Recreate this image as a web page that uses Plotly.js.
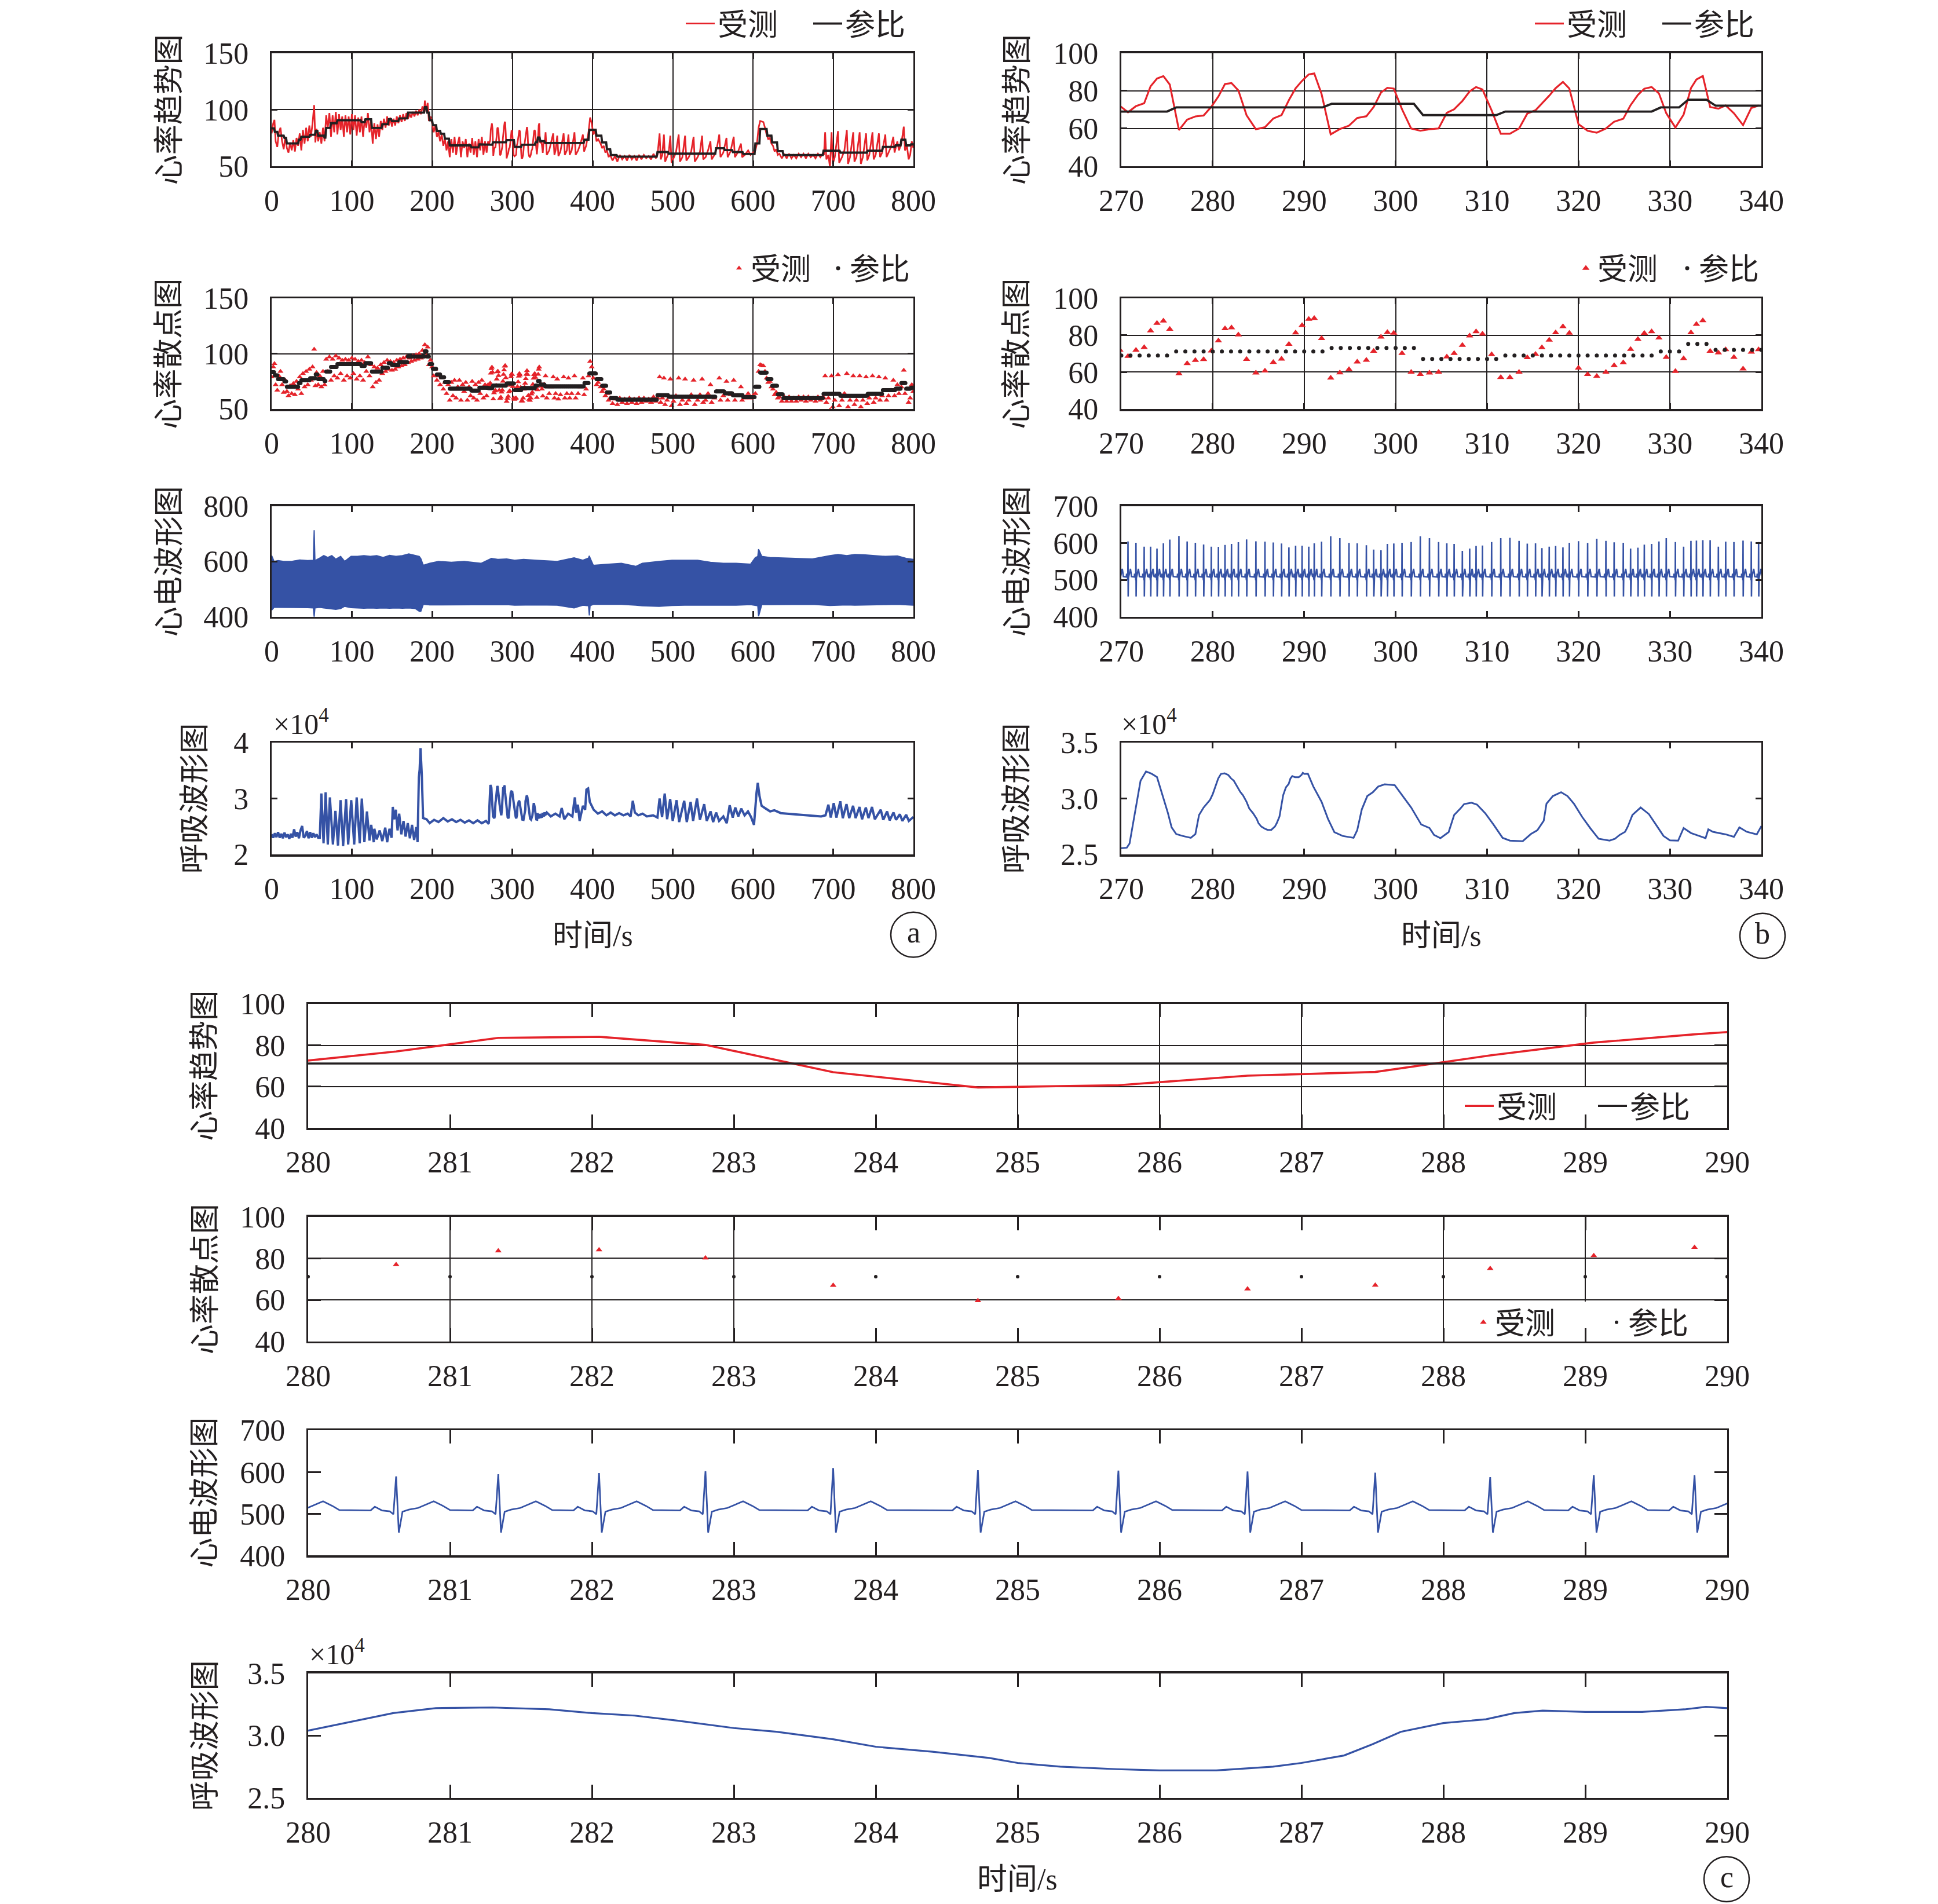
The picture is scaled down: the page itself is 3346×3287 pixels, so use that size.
<!DOCTYPE html>
<html><head><meta charset="utf-8">
<script src="https://cdn.plot.ly/plotly-3.0.1.min.js"></script>
<style>html,body{margin:0;padding:0;background:#fff}</style>
</head><body>
<div id="chart" style="width:3346px;height:3287px"></div>
<script>
const W = 3346, H = 3287;
const FONT = 'Liberation Serif, "Noto Sans CJK SC", serif';
const INK = '#231f20', RED = '#e5232a', BLUE = '#3552a5';

// ---------- tick labels ----------
const xTicksA = [0,100,200,300,400,500,600,700,800];
const xTicksB = [270,280,290,300,310,320,330,340];
const xTicksC = [280,281,282,283,284,285,286,287,288,289,290];
const yTicksHrA = [50,100,150];
const yTicksHrB = [40,60,80,100];
const yTicksEcgA = [400,600,800];
const yTicksEcgB = [400,500,600,700];
const yTicksRespA = [2,3,4];
const yTicksRespB = [2.5,3.0,3.5];
const yTextRespB = ['2.5','3.0','3.5'];

// ---------- measured heart rate (受测), beats in 0-269 s ----------
const hrA1 = [[0,79],[2,88],[3.5,91],[5,72],[7,67],[9,80],[11,84],[13,72],[15,65],[17,76],[19,66],[21,62],[23,71],[25,64],[27,73],[29,63],[31,75],[33,68],[35,79],[37,64],[39,82],[41,70],[43,84],[45,72],[47,86],[49,76],[51,88],[53,104],[54.5,71],[56,83],[58,72],[60,80],[62,70],[64,84],[66,72],[68,95],[70,84],[72,97],[74,76],[76,95],[78,80],[80,98],[82,78],[84,96],[86,82],[88,94],[90,76],[92,95],[94,80],[96,94],[98,78],[100,96],[102,82],[104,95],[106,77],[108,93],[110,80],[112,94],[114,76],[116,92],[118,84],[120,97],[122,80],[124,90],[126,70],[128,88],[130,74],[132,87],[134,76],[136,90],[138,82],[140,92],[142,84],[144,94],[146,86],[148,93],[150,85],[152,92],[154,86],[156,94],[158,88],[160,95],[162,89],[164,96],[166,90],[168,97],[170,92],[172,96],[174,93],[176,98],[178,94],[180,99],[182,95],[184,100],[186,96],[188,103],[190,97],[191,108],[193,98],[194.5,106],[196,90],[198,94],[200,88],[202,80],[204,86],[206,76],[208,80],[210,72],[212,78],[214,68],[216,74],[218,64],[220,72],[222,58],[224,74],[226,62],[228,76],[230,60],[232,70],[234,76],[236,58],[238,72],[240,66],[242,74],[244,58],[246,70],[248,62],[250,75],[252,60],[254,72],[256,58],[258,74],[260,64],[262,76],[264,60],[266,72],[268,62]];

// beats 269.8-339.7 s (heart-beat times and heart rate at each beat)
const beatT = [269.84,270.73,271.6,272.5,273.2,273.9,274.6,275.3,276.3,277.2,278.1,279.0,279.84,280.62,281.34,282.05,282.80,283.70,284.72,285.71,286.62,287.52,288.33,289.06,289.77,290.5,291.1,291.9,292.9,293.9,294.9,295.8,296.8,297.6,298.4,299.1,299.8,300.7,301.7,302.7,303.7,304.7,305.6,306.4,307.3,308.1,308.8,309.5,310.5,311.5,312.5,313.5,314.4,315.3,316.0,316.8,317.5,318.3,319.0,320.0,321.0,322.0,323.0,323.9,324.9,325.7,326.5,327.2,328.0,328.8,329.6,330.6,331.5,332.3,332.9,333.6,334.4,335.3,336.1,337.0,338.0,338.9,339.7];
const hrB = [72,68.6,71.9,73.4,82.4,86.5,87.8,83.3,59.2,64.7,66.4,66.9,71.5,77.0,83.6,84.1,80.2,67.0,59.6,60.7,65.3,67.1,75.1,81.3,85.3,88.7,89.2,78.3,56.9,59.7,61.5,65.6,66.5,71.4,79.1,81.6,81.2,70.2,60.0,58.8,59.6,60.0,68.3,70.2,74.6,79.7,82.0,80.7,69.6,57.2,57.2,60.0,67.9,69.7,73.3,77.4,81.4,84.7,81.2,62.3,58.8,57.8,60.0,63.6,65.2,72.4,77.8,81.1,82.0,78.6,68.1,60.5,67.4,81.4,86.0,87.9,71.4,70.5,72.2,68.1,61.8,70.9,72.2];
// R-peak height of every beat above
const ecgR = [600,604,600.5,590,590,585,599,609,619,604,600.5,596,590,589.6,594.7,597.5,602,609.5,604.4,603.5,601.2,598.4,587.8,592.8,592.8,590,599,603.5,618,613,600,599,594,582,580,597.5,598.5,600.5,602.5,618,613,602.5,599,597.5,578.5,585,592,593,602.5,613,614,605.5,598,599,586,590,592,588,600.5,605,600,611.5,605.5,601.5,600.5,585,587,595.5,597.5,604,613,602.5,590,605.5,606.5,607.5,607.5,590,603.5,602.5,606.5,604,602.5];

const hrA2 = [[340.5,72],[341.5,80],[343,60],[346,64],[348,70],[351,79],[352.5,60],[354,64],[356,77],[357.5,59],[360,63],[364,79],[365.5,60],[368,64],[370,78],[371.5,60],[374,64],[377.5,80],[379,60],[382,64],[385,70],[388,78],[389.5,63],[392,68],[395,80],[397,93],[399,88],[401,78],[403,82],[405,72],[407,74],[410,70],[412,66],[414,68],[416,62],[418,64],[420,58],[422,60],[425,55],[428,59],[431,54],[434,60],[437,56],[440,59],[443,55],[446,60],[449,56],[452,59],[455,55],[458,60],[461,56],[464,60],[467,57],[470,59],[473,56],[476,61],[479,57],[481,60],[483.6,79],[485,56],[487,60],[489,78],[490.5,54],[493,58],[495,62],[497,77],[498.5,53],[501,57],[504,62],[507.4,78],[509,54],[512,58],[515.4,77],[517,55],[520,58],[523,63],[526,76],[527.5,54],[531,58],[534,63],[536.6,77],[538,56],[541,58],[544,64],[547,72],[548.5,56],[552,60],[555,66],[558,78],[559.5,58],[563,62],[567,75],[568.5,58],[572,63],[576,76],[577.5,58],[581,62],[585,70],[586.5,58],[590,60],[594,64],[597,60],[600,62],[603,64],[605,70],[607,84],[609,90],[611,89.5],[613,89],[615,84],[617,78],[619,74],[621,75],[623,70],[625,68],[627,63],[629,65],[631,60],[633,61],[636,57],[639,61],[642,57],[645,61],[648,57],[651,60],[654,57],[657,61],[660,58],[663,61],[666,57],[669,61],[672,58],[675,60],[678,57],[681,61],[684,58],[687,61],[688.5,60],[690,80],[691.5,56],[694,60],[696,49],[698,80],[699.5,52],[702,58],[706,81],[707.5,53],[711,58],[714,64],[717,82],[718.5,52],[721,58],[725,80],[726.5,54],[729,58],[733,80],[734.5,52],[737,58],[741,79],[742.5,55],[745,60],[749,80],[750.5,56],[753,60],[757,79],[758.5,58],[761,62],[765,78],[766.5,58],[769,62],[772,67],[775,76],[776.5,62],[780,72],[782,64],[785,70],[788,85],[789.5,64],[792,68],[794,56],[796,60],[798,72],[800,66]];

// ---------- reference heart rate (参比), 1 Hz, given as level changes ----------
const refStepT = [0,4,8,16,19,34,37,48,55,58,66,68,74,82,112,117,125,138,146,150,159,170,191,194,197,201,206,211,216,222,249,259,270,276,293,303,312,329,332,335,341,390,396,405,412,418,423,431,481,495,554,565,575,588,603,609,618,624,631,638,688,709,743,762,778,785,791,797];
const refStepV = [83.4,80.4,77,75,70.1,73.5,76,77.8,81.2,77,75.3,83.8,88,90.6,89,91.5,83.8,87.2,91.5,89.8,92.3,97.4,102.2,97.4,90.6,86.3,81.2,78.7,74.4,68.4,66.7,69.3,69,71.2,73.1,67.1,69,71.2,75.3,72.1,70.5,73.5,82.1,77,71,65,59.9,58.5,62.5,61.1,65.9,64.2,62.5,60.8,70.1,82.9,77,71,63.3,59.9,63.7,62,63.7,67.1,68.4,73.5,68.4,69.3];

// ---------- ECG, 0-800 s: upper and lower edge of the dense trace ----------
const ecgAT   = [0,3,8,15,25,35,45,52,53,54,60,65,70,75,80,86,91,99,107,115,123,131,139,147,155,163,171,179,184,186,189,197,208,224,240,261,274,282,293,303,314,330,356,377,388,395,396,397,401,415,436,454,462,483,499,515,531,547,563,579,597,603,606,607,611,621,648,674,696,706,717,727,738,749,765,780,791,800];
const ecgATop = [621,600,603,600,600,605,603,604,713,603,612,621,614,621,608,618,600,618,618,621,618,621,614,622,618,621,627,621,618,610,586,593,600,597,600,593,611,607,609,604,607,604,600,613,604,612,620,612,586,589,593,582,593,600,604,604,604,597,593,593,590,614,618,644,618,614,611,609,621,625,621,625,624,621,618,620,611,607];
const ecgABot = [424,434,434,434,434,434,433,432,400,432,434,432,430,428,427,430,438,433,432,431,432,431,432,431,432,431,432,430,420,420,445,443,443,443,443,443,444,444,444,442,443,443,442,432,442,440,405,440,445,445,445,442,440,438,441,442,442,442,441,442,444,442,440,402,444,444,445,445,441,442,443,442,443,443,444,445,444,442];

// one typical heart beat (offset from R peak in s, value)
const tplT = [-0.18,-0.15,-0.10,-0.045,-0.019,0,0.019,0.045,0.09,0.155,0.265,0.33,0.38];
const tplV = [508,517,508,506,499,609,455,505,510,514,530,519,509];
const R_IDX = 5;

// ---------- respiration (x10^4) ----------
const respA1 = [[0,2.36],[2,2.30],[4,2.38],[6,2.31],[8,2.40],[10,2.30],[12,2.37],[14,2.29],[16,2.39],[18,2.31],[20,2.36],[22,2.28],[24,2.37],[26,2.30],[28,2.45],[30,2.32],[32,2.40],[34,2.29],[36,2.43],[38,2.51],[40,2.30],[42,2.33],[44,2.42],[46,2.29],[48,2.40],[50,2.30],[52,2.38],[54,2.31],[56,2.36],[58,2.30],[60,2.30],[62,3.09],[64.7,2.20],[67.3,3.11],[70,2.18],[72.6,3.02],[76.4,2.18],[79.5,2.78],[82.7,2.16],[85.9,2.97],[89.1,2.15],[92.8,2.99],[95.4,2.18],[99.2,2.97],[102.9,2.18],[106,3.02],[109.8,2.20],[112.4,3.00],[115.6,2.22],[118.8,2.77],[122,2.25],[124.1,2.53],[127.3,2.22],[128,2.46],[131,2.27],[134.7,2.43],[137.9,2.24],[141.6,2.48],[144,2.22],[146.9,2.46],[149.5,2.30],[151,2.85],[152.7,2.63],[154.8,2.80],[157,2.43],[159,2.73],[161.7,2.36],[164.4,2.60],[167,2.32],[169.7,2.56],[172.3,2.29],[175,2.53],[177.6,2.26],[180.3,2.49],[181.9,2.22],[183.5,3.38],[184.5,3.52],[185.6,3.90],[187.2,3.41],[188.8,2.65],[193,2.63],[197,2.56],[202.5,2.62],[208,2.58],[214,2.65],[219.5,2.59],[224.8,2.63],[230,2.58],[235.4,2.62],[240.7,2.57],[246,2.61],[251.3,2.56],[256.6,2.61],[262,2.56],[267.2,2.60],[269.5,2.56]];
const respB = [[270,2.556],[270.6,2.561],[270.9,2.598],[271.5,2.869],[272.1,3.158],[272.7,3.242],[273.3,3.222],[273.9,3.192],[274.6,3.005],[275.1,2.869],[275.5,2.742],[276.0,2.683],[276.7,2.666],[277.6,2.649],[278.1,2.683],[278.5,2.853],[279.0,2.920],[279.7,2.988],[280.0,3.04],[280.3,3.11],[280.6,3.18],[280.9,3.22],[281.3,3.225],[281.7,3.21],[282.0,3.18],[282.3,3.16],[282.6,3.12],[283.0,3.06],[283.3,3.03],[283.7,2.97],[284.0,2.91],[284.4,2.87],[284.8,2.82],[285.0,2.78],[285.3,2.75],[285.7,2.73],[286.0,2.72],[286.4,2.72],[286.8,2.75],[287.0,2.78],[287.3,2.84],[287.5,2.93],[287.7,3.03],[288.0,3.10],[288.3,3.13],[288.5,3.18],[288.7,3.20],[289.0,3.19],[289.4,3.19],[289.7,3.21],[289.85,3.23],[290.0,3.22],[290.4,3.222],[291.0,3.107],[291.9,2.971],[292.6,2.819],[293.3,2.700],[294.2,2.666],[295.4,2.649],[295.8,2.717],[296.3,2.903],[296.9,3.022],[297.5,3.056],[298.1,3.107],[298.8,3.127],[299.9,3.120],[300.8,3.022],[301.7,2.920],[302.8,2.768],[303.7,2.737],[304.2,2.675],[304.9,2.646],[305.8,2.700],[306.4,2.853],[307.1,2.912],[307.5,2.951],[308.3,2.963],[308.9,2.946],[309.8,2.869],[310.7,2.768],[311.7,2.649],[312.5,2.624],[313.9,2.619],[314.8,2.683],[315.5,2.717],[316.2,2.802],[316.5,2.954],[317.2,3.022],[318.1,3.056],[318.8,3.022],[319.5,2.954],[320.4,2.836],[321.3,2.734],[322.2,2.641],[323.4,2.624],[324.0,2.641],[324.5,2.675],[325.1,2.703],[325.4,2.751],[325.9,2.853],[326.8,2.920],[327.7,2.861],[328.6,2.751],[329.3,2.666],[330.0,2.627],[330.9,2.624],[331.5,2.737],[332.3,2.692],[333.2,2.666],[333.9,2.646],[334.2,2.725],[334.7,2.703],[336.1,2.680],[337.0,2.658],[337.6,2.742],[338.4,2.703],[339.5,2.680],[340.0,2.754]];
const respA2 = [[341,2.70],[343,2.75],[348,2.68],[353.7,2.73],[359,2.68],[361.6,2.83],[364.8,2.63],[369.6,2.73],[374.9,2.68],[376.5,2.87],[378,3.02],[379.6,2.75],[381.8,2.89],[383.9,2.60],[388,2.87],[390.8,2.80],[392.4,3.16],[394.5,3.18],[396.6,2.94],[401.4,2.80],[406.7,2.73],[412,2.77],[417.3,2.70],[422.6,2.75],[427.9,2.70],[433.2,2.74],[438.5,2.70],[443.8,2.73],[447.5,2.68],[450.2,2.96],[452.8,2.75],[457,2.70],[462.4,2.73],[467.7,2.68],[475.6,2.70],[480.9,2.66],[483.6,3.00],[486.7,2.67],[490,3.09],[493,2.63],[496.8,2.99],[500,2.60],[504.8,2.97],[508,2.58],[514.3,2.96],[517.5,2.58],[522.3,2.94],[525.4,2.60],[530.2,3.00],[533.9,2.62],[539.2,2.90],[542.4,2.60],[547.2,2.77],[550.4,2.58],[554.1,2.75],[557.8,2.60],[563.1,2.68],[567.3,2.56],[571,2.88],[574.8,2.66],[578,2.84],[581.7,2.68],[585.4,2.82],[589.6,2.70],[593.8,2.77],[597.6,2.67],[601.3,2.53],[604.5,3.11],[606,3.28],[608.2,3.04],[610.8,2.87],[616,2.82],[621.4,2.77],[626.7,2.79],[634.7,2.74],[642.6,2.73],[653.2,2.72],[663.8,2.71],[674.4,2.70],[685,2.68],[690.4,2.70],[694,2.89],[697,2.66],[700.7,2.92],[704,2.66],[708.9,2.95],[712,2.65],[716.6,2.90],[720,2.65],[724.8,2.87],[728,2.65],[732.8,2.85],[736,2.63],[740.7,2.84],[744,2.65],[748.4,2.85],[751.9,2.63],[759.3,2.80],[762.4,2.62],[767.2,2.77],[770.4,2.61],[775.2,2.75],[778.4,2.62],[783.1,2.72],[786.3,2.60],[791,2.71],[794.3,2.60],[800,2.67]];

// panel c: x positions that still show a vertical grid line, and where each line starts (fraction of plot height; the legend hides the lower part)
const cGrid1 = [285,286,287,288,289];
const cGrid1From = [0,0,0,0,0.33];
const cGrid2 = [281,282,283,288,289];
const cGrid2From = [0,0,0,0,0.32];

// ---------- build series ----------
const hrAllT = hrA1.map(p=>p[0]).concat(beatT, hrA2.map(p=>p[0]));
const hrAllV = hrA1.map(p=>p[1]).concat(hrB, hrA2.map(p=>p[1]));
const refT = [], refV = [];
for (let t = 0, k = 0; t <= 800; t++) {
  while (k + 1 < refStepT.length && refStepT[k+1] <= t) k++;
  refT.push(t); refV.push(refStepV[k]);
}
const ecgT = [], ecgV = [];
for (let i = 0; i < beatT.length; i++) {
  for (let j = 0; j < tplT.length; j++) {
    const x = +(beatT[i] + tplT[j]).toFixed(4);
    if (ecgT.length && x <= ecgT[ecgT.length-1]) continue;
    ecgT.push(x); ecgV.push(j === R_IDX ? ecgR[i] : tplV[j]);
  }
}
const respAll = respA1.concat(respB, respA2);
const respT = respAll.map(p=>p[0]), respV = respAll.map(p=>p[1]);
const respBT = respB.map(p=>p[0]), respBV = respB.map(p=>p[1]);

// ---------- layout geometry (pixels) ----------
const colA = [469,1577], colB = [1936,3041], colC = [532,2982];
const rowsAB = [[79,275],[504,696],[864,1056],[1274,1468]];
const rowsC = [[1727,1942],[2096,2312],[2466,2683],[2887,3103]];

function base(tlen) {
  return {ticks:'inside', ticklen:tlen, tickwidth:3, tickcolor:INK, showline:true, linewidth:3.4,
    linecolor:INK, mirror:'ticks', gridcolor:INK, gridwidth:2, zeroline:false,
    tickfont:{family:FONT, size:52, color:INK}, fixedrange:true, tickmode:'array'};
}
function xAx(col, range, tv, tlen, grid, anchor) {
  return Object.assign(base(tlen), {domain:[col[0]/W, col[1]/W], range, anchor,
    tickvals:tv, ticktext:tv.map(String), showgrid:grid, ticklabelstandoff:11});
}
function yAx(row, range, tv, tt, tlen, grid, anchor) {
  return Object.assign(base(tlen), {domain:[1-row[1]/H, 1-row[0]/H], range, anchor,
    tickvals:tv, ticktext:tt, showgrid:grid, ticklabelstandoff:26});
}

const layout = {
  width:W, height:H, margin:{l:0,r:0,t:0,b:0}, paper_bgcolor:'#fff', plot_bgcolor:'rgba(0,0,0,0)',
  font:{family:FONT, size:52, color:INK}, showlegend:true,
  xaxis:  xAx(colA,[0,800],xTicksA,10,true,'y'),
  yaxis:  yAx(rowsAB[0],[50,150],yTicksHrA,yTicksHrA.map(String),10,true,'x'),
  xaxis2: xAx(colA,[0,800],xTicksA,10,true,'y2'),
  yaxis2: yAx(rowsAB[1],[50,150],yTicksHrA,yTicksHrA.map(String),10,true,'x2'),
  xaxis3: xAx(colA,[0,800],xTicksA,10,false,'y3'),
  yaxis3: yAx(rowsAB[2],[400,800],yTicksEcgA,yTicksEcgA.map(String),10,false,'x3'),
  xaxis4: xAx(colA,[0,800],xTicksA,10,false,'y4'),
  yaxis4: yAx(rowsAB[3],[2,4],yTicksRespA,yTicksRespA.map(String),10,false,'x4'),
  xaxis5: xAx(colB,[270,340],xTicksB,10,true,'y5'),
  yaxis5: yAx(rowsAB[0],[40,100],yTicksHrB,yTicksHrB.map(String),10,true,'x5'),
  xaxis6: xAx(colB,[270,340],xTicksB,10,true,'y6'),
  yaxis6: yAx(rowsAB[1],[40,100],yTicksHrB,yTicksHrB.map(String),10,true,'x6'),
  xaxis7: xAx(colB,[270,340],xTicksB,10,false,'y7'),
  yaxis7: yAx(rowsAB[2],[400,700],yTicksEcgB,yTicksEcgB.map(String),10,false,'x7'),
  xaxis8: xAx(colB,[270,340],xTicksB,10,false,'y8'),
  yaxis8: yAx(rowsAB[3],[2.5,3.5],yTicksRespB,yTextRespB,10,false,'x8'),
  xaxis9: xAx(colC,[280,290],xTicksC,23,false,'y9'),
  yaxis9: yAx(rowsC[0],[40,100],yTicksHrB,yTicksHrB.map(String),22,true,'x9'),
  xaxis10: xAx(colC,[280,290],xTicksC,23,false,'y10'),
  yaxis10: yAx(rowsC[1],[40,100],yTicksHrB,yTicksHrB.map(String),22,true,'x10'),
  xaxis11: xAx(colC,[280,290],xTicksC,23,false,'y11'),
  yaxis11: yAx(rowsC[2],[400,700],yTicksEcgB,yTicksEcgB.map(String),22,false,'x11'),
  xaxis12: xAx(colC,[280,290],xTicksC,23,false,'y12'),
  yaxis12: yAx(rowsC[3],[2.5,3.5],yTicksRespB,yTextRespB,22,false,'x12'),
  annotations:[], shapes:[]
};

function leg(xl, yc, ew, iw) {
  return {x:xl/W, y:1-yc/H, xanchor:'left', yanchor:'middle', orientation:'h', traceorder:'normal',
    font:{family:FONT,size:52,color:INK}, bgcolor:'rgba(0,0,0,0)', borderwidth:0,
    entrywidth:ew, entrywidthmode:'pixels', itemwidth:iw, tracegroupgap:0};
}
layout.legend  = leg(1179, 28, 155, 50);
layout.legend2 = leg(1256, 452, 126, 30);
layout.legend3 = leg(2645, 28, 155, 50);
layout.legend4 = leg(2718, 452, 130, 30);
layout.legend5 = leg(2524, 1904, 165, 50);
layout.legend6 = leg(2541, 2279, 185, 30);

// y-axis titles
const yTitles = [
  ['心率趋势图',292,177],['心率散点图',292,600],['心电波形图',292,960],['呼吸波形图',337,1371],
  ['心率趋势图',1756,177],['心率散点图',1756,600],['心电波形图',1756,960],['呼吸波形图',1756,1371],
  ['心率趋势图',354,1834],['心率散点图',354,2204],['心电波形图',354,2574],['呼吸波形图',354,2995]
];
yTitles.forEach(a => layout.annotations.push({text:a[0], x:a[1]/W, y:1-a[2]/H, xref:'paper', yref:'paper',
  textangle:-90, showarrow:false, xanchor:'center', yanchor:'middle', font:{family:FONT,size:52,color:INK}}));
[['时间/s',1024,1609],['时间/s',2488,1609],['时间/s',1756,3244]].forEach(a => layout.annotations.push({
  text:a[0], x:a[1]/W, y:1-a[2]/H, xref:'paper', yref:'paper', showarrow:false, xanchor:'center', yanchor:'middle',
  font:{family:FONT,size:52,color:INK}}));
[[470,1238],[1934,1238],[532,2851]].forEach(a => layout.annotations.push({
  text:'×10<sup>4</sup>', x:a[0]/W, y:1-a[1]/H, xref:'paper', yref:'paper', showarrow:false, xanchor:'left', yanchor:'middle',
  font:{family:FONT,size:50,color:INK}}));
[['a',1577,1607],['b',3043,1609],['c',2981,3244]].forEach(a => {
  layout.annotations.push({text:a[0], x:a[1]/W, y:1-(a[2]-4)/H, xref:'paper', yref:'paper', showarrow:false,
    xanchor:'center', yanchor:'middle', font:{family:FONT,size:52,color:INK}});
  layout.shapes.push({type:'circle', xref:'paper', yref:'paper', x0:(a[1]-39)/W, x1:(a[1]+39)/W,
    y0:1-(a[2]+39)/H, y1:1-(a[2]-39)/H, line:{color:INK,width:2.5}});
});
cGrid1.forEach((g,i) => layout.shapes.push({type:'line', xref:'x9', yref:'y9 domain', x0:g, x1:g, y0:cGrid1From[i], y1:1, layer:'below', line:{color:INK,width:2}}));
cGrid2.forEach((g,i) => layout.shapes.push({type:'line', xref:'x10', yref:'y10 domain', x0:g, x1:g, y0:cGrid2From[i], y1:1, layer:'below', line:{color:INK,width:2}}));

const none = {showlegend:false};
const traces = [
  // panel a
  {x:hrAllT, y:hrAllV, xaxis:'x', yaxis:'y', mode:'lines', line:{color:RED,width:2.8}, name:'受测', legend:'legend'},
  {x:refT, y:refV, xaxis:'x', yaxis:'y', mode:'lines', line:{color:INK,width:3.8}, name:'参比', legend:'legend'},
  {x:hrAllT, y:hrAllV, xaxis:'x2', yaxis:'y2', mode:'markers', marker:{symbol:'triangle-up',size:9,color:RED}, name:'受测', legend:'legend2'},
  {x:refT, y:refV, xaxis:'x2', yaxis:'y2', mode:'markers', marker:{symbol:'circle',size:7,color:INK}, name:'参比', legend:'legend2'},
  Object.assign({x:ecgAT, y:ecgATop, xaxis:'x3', yaxis:'y3', mode:'lines', line:{color:BLUE,width:2}}, none),
  Object.assign({x:ecgAT, y:ecgABot, xaxis:'x3', yaxis:'y3', mode:'lines', line:{color:BLUE,width:2}, fill:'tonexty', fillcolor:BLUE}, none),
  Object.assign({x:respT, y:respV, xaxis:'x4', yaxis:'y4', mode:'lines', line:{color:BLUE,width:4}}, none),
  // panel b
  {x:beatT, y:hrB, xaxis:'x5', yaxis:'y5', mode:'lines', line:{color:RED,width:3.2}, name:'受测', legend:'legend3'},
  {x:refT, y:refV, xaxis:'x5', yaxis:'y5', mode:'lines', line:{color:INK,width:3.8}, name:'参比', legend:'legend3'},
  {x:beatT, y:hrB, xaxis:'x6', yaxis:'y6', mode:'markers', marker:{symbol:'triangle-up',size:11,color:RED}, name:'受测', legend:'legend4'},
  {x:refT, y:refV, xaxis:'x6', yaxis:'y6', mode:'markers', marker:{symbol:'circle',size:7,color:INK}, name:'参比', legend:'legend4'},
  Object.assign({x:ecgT, y:ecgV, xaxis:'x7', yaxis:'y7', mode:'lines', line:{color:BLUE,width:2.6}}, none),
  Object.assign({x:respBT, y:respBV, xaxis:'x8', yaxis:'y8', mode:'lines', line:{color:BLUE,width:3}}, none),
  // panel c
  {x:beatT, y:hrB, xaxis:'x9', yaxis:'y9', mode:'lines', line:{color:RED,width:3.6}, name:'受测', legend:'legend5'},
  {x:refT, y:refV, xaxis:'x9', yaxis:'y9', mode:'lines', line:{color:INK,width:3.6}, name:'参比', legend:'legend5'},
  {x:beatT, y:hrB, xaxis:'x10', yaxis:'y10', mode:'markers', marker:{symbol:'triangle-up',size:10,color:RED}, name:'受测', legend:'legend6'},
  {x:refT, y:refV, xaxis:'x10', yaxis:'y10', mode:'markers', marker:{symbol:'circle',size:6,color:INK}, name:'参比', legend:'legend6'},
  Object.assign({x:ecgT, y:ecgV, xaxis:'x11', yaxis:'y11', mode:'lines', line:{color:BLUE,width:2.8}}, none),
  Object.assign({x:respBT, y:respBV, xaxis:'x12', yaxis:'y12', mode:'lines', line:{color:BLUE,width:3.2}}, none)
];

Plotly.newPlot('chart', traces, layout, {staticPlot:true, displayModeBar:false});
</script>
</body></html>
